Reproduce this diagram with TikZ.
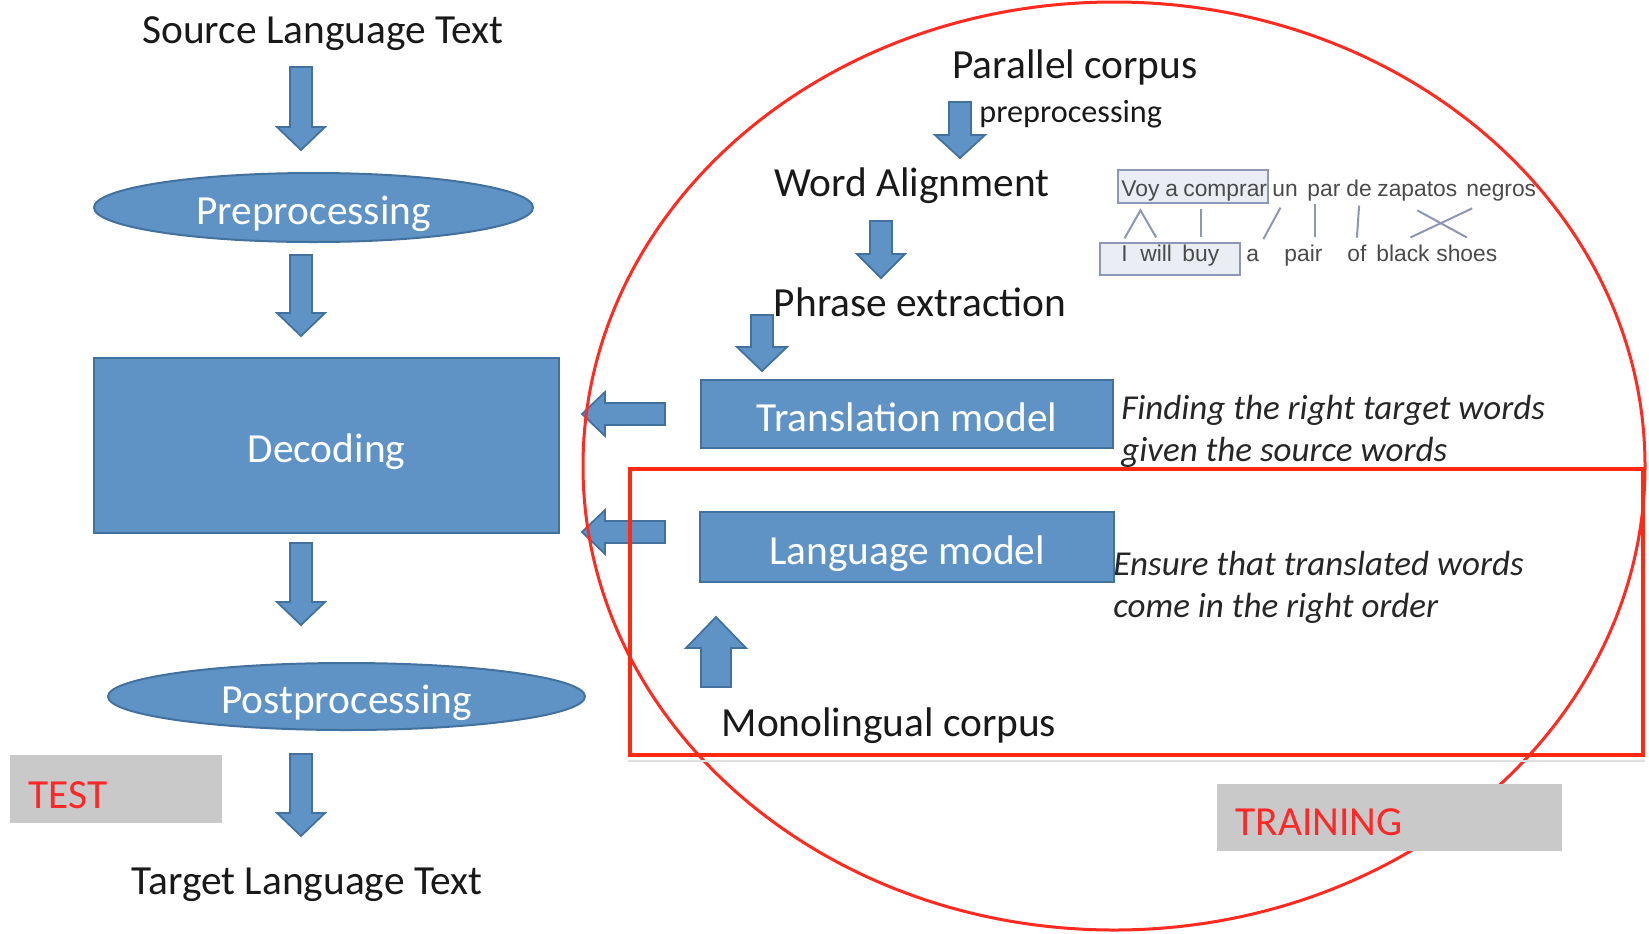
\documentclass[tikz,border=0pt]{standalone}
\usepackage{fontspec}
\setmainfont{Carlito}
\newfontfamily\arialfont{Liberation Sans}
\usetikzlibrary{calc,shapes.geometric}

\definecolor{boxblue}{HTML}{5F93C6}
\definecolor{boxedge}{HTML}{42719E}
\definecolor{ringred}{HTML}{FF2A20}
\definecolor{framered}{HTML}{FF2A10}
\definecolor{taggrey}{HTML}{C9C9C9}
\definecolor{tagred}{HTML}{FF2828}
\definecolor{aligngrey}{HTML}{4A4A4A}
\definecolor{alignlink}{HTML}{8D96B5}
\definecolor{alignfill}{HTML}{EAEEF4}

\newcommand\mainsize{\fontsize{20.7}{24}\selectfont}
\newcommand\notesize{\fontsize{17.5}{21}\selectfont}
\newcommand\smallsize{\fontsize{16.1}{19}\selectfont}
\newcommand\wordfont{\arialfont\fontsize{11.4}{13}\selectfont}

% block arrow from #1 to #2: shaft half-width #3, head half-width #4, head length #5
\newcommand\blockarrow[5]{%
  \coordinate (ba-base) at ($(#2)!#5!(#1)$);
  \path[blockarrow]
    ($(#1)!#3!90:(#2)$) -- ($(ba-base)!#3!90:(#2)$) -- ($(ba-base)!#4!90:(#2)$)
    -- (#2)
    -- ($(ba-base)!#4!-90:(#2)$) -- ($(ba-base)!#3!-90:(#2)$) -- ($(#1)!#3!-90:(#2)$)
    -- cycle;}

\begin{document}
\begin{tikzpicture}[x=0.5pt,y=-0.5pt,
  bluebox/.style={draw=boxedge, fill=boxblue, line width=1pt, text=white, font=\mainsize,
    inner sep=0pt, text height=17pt, text depth=0pt},
  plain/.style={font=\mainsize, text=black!90, inner sep=0pt, text height=15pt, text depth=0pt},
  note/.style={font=\notesize\itshape, text=black!85, align=left, anchor=west, inner sep=0pt},
  blockarrow/.style={draw=boxedge, fill=boxblue, line width=0.9pt, line join=miter},
  tag/.style={fill=taggrey, inner sep=0pt},
  taglabel/.style={font=\mainsize, text=tagred, anchor=west, inner sep=0pt},
  word/.style={font=\wordfont, text=aligngrey, anchor=base west, inner sep=0pt},
  wordbox/.style={draw=alignlink, fill=alignfill, line width=0.8pt, inner sep=0pt},
  link/.style={draw=alignlink, line width=1pt}]

\useasboundingbox (0,0) rectangle (1649,933);

% ---------- decoding pipeline ----------
\node[plain] (src) at (323,28) {Source Language Text};
\node[bluebox, ellipse, minimum width=219.5pt, minimum height=34.5pt] (pre) at (313.5,207.5) {Preprocessing};
\node[bluebox, rectangle, minimum width=232.5pt, minimum height=87.5pt] (dec) at (326.5,445.5) {Decoding};
\node[bluebox, ellipse, minimum width=238.5pt, minimum height=33.5pt] (post) at (346.5,696.5) {Postprocessing};
\node[plain] (tgt) at (307,879) {Target Language Text};

\coordinate (a1s) at (301,67);  \coordinate (a1e) at (301,150);
\coordinate (a2s) at (301,255); \coordinate (a2e) at (301,336);
\coordinate (a3s) at (301,543); \coordinate (a3e) at (301,625);
\coordinate (a4s) at (301,754); \coordinate (a4e) at (301,836);
\blockarrow{a1s}{a1e}{5.5pt}{12pt}{11.5pt}
\blockarrow{a2s}{a2e}{5.5pt}{12pt}{11.5pt}
\blockarrow{a3s}{a3e}{5.5pt}{12pt}{11.5pt}
\blockarrow{a4s}{a4e}{5.5pt}{12pt}{11.5pt}

% ---------- training side ----------
\node[plain] (par) at (1075,63) {Parallel corpus};
\node[font=\smallsize, text=black!90, anchor=west, inner sep=0pt] (prep) at (979,114) {preprocessing};
\node[plain] (wal) at (912,181) {Word Alignment};
\node[plain] (phr) at (920,301) {Phrase extraction};
\node[bluebox, rectangle, minimum width=206pt, minimum height=34pt] (tm) at (907,414) {Translation model};
\node[bluebox, rectangle, minimum width=207pt, minimum height=35pt] (lm) at (907,547) {Language model};
\node[plain] (mono) at (889,721) {Monolingual corpus};

\node[note] (tmnote) at (1121,431) {Finding the right target words\\given the source words};
\node[note] (lmnote) at (1113,587) {Ensure that translated words\\come in the right order};

\coordinate (b1s) at (960,102); \coordinate (b1e) at (960,158);
\coordinate (b2s) at (881,221); \coordinate (b2e) at (881,278);
\coordinate (b3s) at (762,315); \coordinate (b3e) at (762,371);
\coordinate (b4s) at (716,687); \coordinate (b4e) at (716,617);
\coordinate (c1s) at (665,414); \coordinate (c1e) at (582,414);
\coordinate (c2s) at (665,532); \coordinate (c2e) at (582,532);
\blockarrow{b1s}{b1e}{5.5pt}{12.5pt}{11.5pt}
\blockarrow{b2s}{b2e}{5.5pt}{12pt}{12pt}
\blockarrow{b3s}{b3e}{5.5pt}{12.5pt}{12pt}
\blockarrow{b4s}{b4e}{7.5pt}{15pt}{15.5pt}
\blockarrow{c1s}{c1e}{5.5pt}{11pt}{11.5pt}
\blockarrow{c2s}{c2e}{5.5pt}{11pt}{11.5pt}

% ---------- word alignment example ----------
\node[wordbox, minimum width=75pt, minimum height=16.5pt] (srcbox) at (1193,186.5) {};
\node[wordbox, minimum width=70pt, minimum height=16pt] (tgtbox) at (1170,259) {};

\node[word] (voy) at (1121,196) {Voy};
\node[word] (wa) at (1165,196) {a};
\node[word] (comprar) at (1183,196) {comprar};
\node[word] (un) at (1272,196) {un};
\node[word] (parw) at (1307,196) {par};
\node[word] (de) at (1346,196) {de};
\node[word] (zapatos) at (1377,196) {zapatos};
\node[word] (negros) at (1466,196) {negros};

\node[word] (I) at (1121,261) {I};
\node[word] (will) at (1140,261) {will};
\node[word] (buy) at (1182,261) {buy};
\node[word] (a2) at (1246,261) {a};
\node[word] (pair) at (1284,261) {pair};
\node[word] (of) at (1347,261) {of};
\node[word] (black) at (1376,261) {black};
\node[word] (shoes) at (1436,261) {shoes};

\draw[link] ([yshift=3.3pt]I.north) -- ([yshift=-4.6pt]voy.south) -- ([yshift=3.3pt]will.north);
\draw[link] ([yshift=3.3pt]buy.north) -- ++(0,-28);
\draw[link] ([xshift=-2.3pt,yshift=-5.5pt]un.south) -- ([xshift=5.3pt,yshift=4.6pt]a2.north);
\draw[link] ([xshift=6pt,yshift=3.3pt]pair.north) -- ++(0,-33);
\draw[link] ([yshift=-4.5pt]de.south) -- ([yshift=3.2pt]of.north);
\draw[link] ([yshift=-4.6pt]zapatos.south) -- ([yshift=3.3pt]shoes.north);
\draw[link] ([xshift=-14.5pt,yshift=-3.6pt]negros.south) -- ([xshift=3.7pt,yshift=3.3pt]black.north);

% ---------- training ring and language-model frame ----------
\node[ellipse, draw=ringred, line width=1.5pt, minimum width=531pt, minimum height=464pt, inner sep=0pt] (ring) at (1114,466) {};
\node[rectangle, draw=framered, line width=2.25pt, minimum width=506.5pt, minimum height=143pt, inner sep=0pt] (frame) at (1136.5,612) {};
\draw[black!12, line width=1.2pt] ([yshift=-2pt]frame.south west) -- ([yshift=-2pt]frame.south east);

% ---------- phase tags ----------
\node[tag, minimum width=106pt, minimum height=34pt] (test) at (116,789) {};
\node[taglabel] (testlbl) at (28,795) {TEST};
\node[tag, minimum width=172.5pt, minimum height=33.5pt] (train) at (1389.5,817.5) {};
\node[taglabel] (trainlbl) at (1235,822) {TRAINING};

\end{tikzpicture}
\end{document}
